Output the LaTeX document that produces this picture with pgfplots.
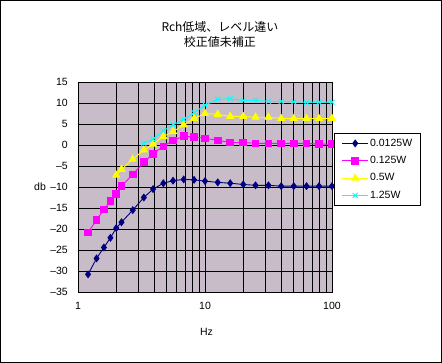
\documentclass[border=0pt]{standalone}
\usepackage{fontspec}
\setmainfont{Liberation Sans}
\newfontfamily\cjk{Noto Sans CJK JP}
\usepackage{pgfplots}
\pgfplotsset{compat=1.18}
\definecolor{plotbg}{RGB}{200,188,200}
\definecolor{sNavy}{RGB}{0,0,128}
\definecolor{sMag}{RGB}{255,0,255}
\definecolor{sYel}{RGB}{255,255,0}
\definecolor{sCyan}{RGB}{0,255,255}
\begin{document}
\begin{tikzpicture}
\useasboundingbox (0,0) rectangle (442pt,363pt);
\fill[white] (0,0) rectangle (442pt,363pt);
\begin{axis}[
  at={(78pt,71pt)}, anchor=south west,
  scale only axis, width=254pt, height=210pt,
  xmode=log, xmin=1, xmax=100, ymin=-35, ymax=15,
  axis background/.style={fill=plotbg},
  xtick={1,10,100}, xticklabels={1,10,100},
  minor xtick={2,3,4,5,6,7,8,9,20,30,40,50,60,70,80,90},
  ytick={-35,-30,-25,-20,-15,-10,-5,0,5,10,15},
  yticklabels={\textendash35,\textendash30,\textendash25,\textendash20,\textendash15,\textendash10,\textendash5,0,5,10,15},
  major tick length=0pt, minor tick length=0pt,
  xmajorgrids, xminorgrids, ymajorgrids,
  major grid style={black, line width=0.9pt},
  minor grid style={black, line width=0.9pt},
  axis line style={black, line width=0.9pt},
  ticklabel style={font=\fontsize{10.5}{12}\selectfont, inner sep=0pt},
  xticklabel style={anchor=center, yshift=-14pt},
  yticklabel style={anchor=east, xshift=-10pt},
  xlabel={Hz}, ylabel={db},
  label style={font=\fontsize{10.5}{12}\selectfont},
  xlabel style={at={(axis description cs:0.506,-0.19)}, anchor=center},
  ylabel style={at={(axis description cs:-0.1496,0.5)}, anchor=center, rotate=-90},
  title={Rch低域、レベル違い\\校正値未補正},
  title style={align=center, font=\cjk\fontsize{12}{15}\selectfont, at={(axis description cs:0.559,1.196)}, anchor=center},
  legend style={at={(1.009,0.757)}, anchor=north west, draw=black, line width=0.9pt, fill=white,
    font=\fontsize{10.5}{12}\selectfont, row sep=5.5pt, inner xsep=7pt, inner ysep=4pt,
    nodes={inner sep=1.5pt}},
  legend cell align=left,
  legend image code/.code={\draw[mark repeat=2,mark phase=2,#1] plot coordinates {(0pt,0pt) (13pt,0pt) (26pt,0pt)};},
]
\addplot[color=sNavy, line width=0.9pt, mark=diamond*, mark size=3.3pt, mark options={solid,fill=sNavy}] coordinates {
(1.2,-30.8) (1.4,-27.0) (1.6,-24.4) (1.8,-22.1) (2.0,-19.8) (2.2,-18.4) (2.7,-15.5) (3.3,-12.5) (3.9,-10.5) (4.7,-9.1) (5.6,-8.5) (6.8,-8.2) (8.2,-8.3) (10,-8.6) (12.6,-8.9) (15.8,-9.1) (20,-9.4) (25,-9.6) (31.6,-9.6) (39.8,-9.8) (50,-9.8) (63,-9.8) (79,-9.8) (100,-9.8)};
\addlegendentry{0.0125W}
\addplot[color=sMag, line width=0.9pt, mark=square*, mark size=3.3pt, mark options={solid,fill=sMag}] coordinates {
(1.2,-20.8) (1.4,-17.9) (1.6,-15.3) (1.8,-13.3) (2.0,-11.7) (2.2,-9.8) (2.7,-7.0) (3.3,-4.1) (3.9,-2.1) (4.7,-0.3) (5.6,1.1) (6.8,2.1) (8.2,1.9) (10,1.6) (12.6,1.1) (15.8,0.6) (20,0.6) (25,0.4) (31.6,0.4) (39.8,0.4) (50,0.4) (63,0.4) (79,0.2) (100,0.2)};
\addlegendentry{0.125W}
\addplot[color=sYel, line width=0.9pt, mark=triangle*, mark size=4pt, mark options={solid,fill=sYel}] coordinates {
(2.0,-7.2) (2.2,-5.8) (2.7,-3.4) (3.3,-1.2) (3.9,0.2) (4.7,2.0) (5.6,3.2) (6.8,4.8) (8.2,6.3) (10,7.5) (12.6,7.3) (15.8,6.8) (20,6.8) (25,6.6) (31.6,6.6) (39.8,6.3) (50,6.3) (63,6.3) (79,6.3) (100,6.3)};
\addlegendentry{0.5W}
\addplot[color=sCyan, line width=0.9pt, mark=x, mark size=3.5pt, mark options={solid}] coordinates {
(3.3,0.4) (3.9,1.4) (4.7,3.4) (5.6,4.8) (6.8,6.1) (8.2,7.7) (10,9.5) (12.6,10.9) (15.8,11.0) (20,10.6) (25,10.6) (31.6,10.4) (39.8,10.4) (50,10.3) (63,10.2) (79,10.2) (100,10.2)};
\addlegendentry{1.25W}
\end{axis}
\draw[black, line width=1pt] (0.5pt,0.5pt) rectangle (441.5pt,362.5pt);
\end{tikzpicture}
\end{document}
